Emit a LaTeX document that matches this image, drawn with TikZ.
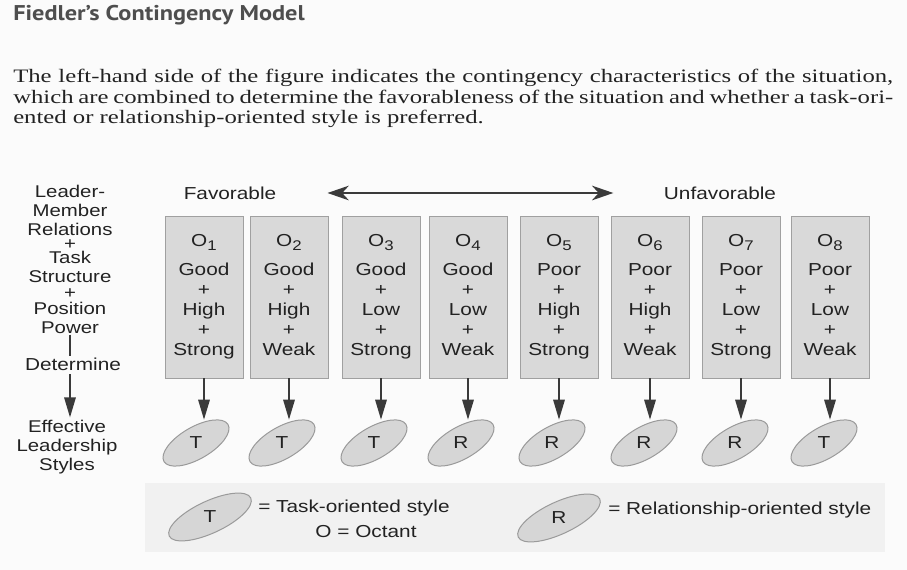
\documentclass[tikz,border=0pt]{standalone}
\usepackage{fontspec}
\usepackage{tikz}
\usetikzlibrary{arrows.meta}
\setmainfont{Liberation Serif}[FakeStretch=1.3]
\newfontfamily\labelfont{Liberation Sans}[FakeStretch=1.2]
\newfontfamily\headfont{PT Sans}[FakeStretch=1.14]
\definecolor{pagecol}{HTML}{FBFBFB}
\definecolor{bandcol}{HTML}{F1F1F1}
\definecolor{boxfill}{HTML}{D9D9D9}
\definecolor{boxline}{HTML}{A0A0A0}
\definecolor{ellfill}{HTML}{D6D6D6}
\definecolor{ellline}{HTML}{9A9A9A}
\definecolor{txtcol}{HTML}{222222}
\definecolor{arrcol}{HTML}{3A3A3A}
\definecolor{headcol}{HTML}{4E4E4E}
\newcommand{\octnum}[1]{O\raisebox{-0.45ex}{\fontsize{10.5}{12}\selectfont #1}}
\begin{document}
\begin{tikzpicture}[x=0.75pt,y=0.75pt,yscale=-1,xscale=1,
    lbl/.style={font=\labelfont\fontsize{13}{15}\selectfont, text=txtcol, inner sep=0.75pt},
    sidelbl/.style={lbl, align=center, font=\labelfont\fontsize{12.75}{14.25}\selectfont},
    octbox/.style={lbl, draw=boxline, fill=boxfill, line width=0.6pt, align=center, minimum width=58.5pt, minimum height=121.5pt},
    stylemark/.style={lbl, inner sep=0pt, minimum height=34.5pt},
    ellshape/.style={draw=ellline, fill=ellfill, line width=0.75pt},
    downarr/.style={draw=arrcol, line width=1.5pt, -{Triangle[length=15pt,width=8.5pt]}},
    barline/.style={draw=arrcol, line width=1.5pt},
    rangearr/.style={draw=arrcol, line width=1.1pt, {Stealth[length=16pt,width=11pt,inset=5pt]}-{Stealth[length=16pt,width=11pt,inset=5pt]}}]
        \useasboundingbox (0,0) rectangle (907,570);
        \fill[pagecol] (0,0) rectangle (907,570);

        %Shape: Rectangle [legend band]
        \fill[bandcol] (145,483) rectangle (885,552);

        % Text Node
        \draw (13,15) node [anchor=west][inner sep=0pt][font=\headfont\bfseries\fontsize{16}{19}\selectfont, text=headcol] (title) {Fiedler’s Contingency Model};
        % Text Node
        \draw (13,69) node [anchor=north west][inner sep=0pt][text width=660pt, align=justify, text=txtcol, font=\fontsize{14.25}{15.4}\selectfont] (intro) {The left-hand side of the figure indicates the contingency characteristics of the situation,\linebreak which are combined to determine the favorableness of the situation and whether a task-ori-\linebreak ented or relationship-oriented style is preferred.};

        % Text Node
        \draw (230,193) node [lbl] (fav) {Favorable};
        % Text Node
        \draw (720,193) node [lbl] (unfav) {Unfavorable};
        %Straight Lines
        \draw [rangearr, shorten <=37.5pt, shorten >=37pt] (fav.east) -- (unfav.west);

        % Text Node
        \draw (70,259) node [sidelbl] (lmr) {Leader-\\Member\\Relations\\[-3.5pt]+\\[-3.5pt]Task\\Structure\\[-2.5pt]+\\[-2.5pt]Position\\Power};
        % Text Node
        \draw (73,364) node [lbl] (det) {Determine};
        % Text Node
        \draw (67,447) node [sidelbl] (eff) {Effective\\Leadership\\Styles};
        %Straight Lines
        \draw [barline] (lmr.south) -- (lmr.south |- det.north);
        \draw [downarr, shorten <=2pt, shorten >=1pt] (lmr.south |- det.south) -- (lmr.south |- eff.north);

        %Shape: Rectangle [octants]
        \draw (204,297) node [octbox] (o1) {\strut\octnum{1}\\[7pt]Good\\+\\High\\+\\Strong\strut};
        \draw (289,297) node [octbox] (o2) {\strut\octnum{2}\\[7pt]Good\\+\\High\\+\\Weak\strut};
        \draw (381,297) node [octbox] (o3) {\strut\octnum{3}\\[7pt]Good\\+\\Low\\+\\Strong\strut};
        \draw (468,297) node [octbox] (o4) {\strut\octnum{4}\\[7pt]Good\\+\\Low\\+\\Weak\strut};
        \draw (559,297) node [octbox] (o5) {\strut\octnum{5}\\[7pt]Poor\\+\\High\\+\\Strong\strut};
        \draw (650,297) node [octbox] (o6) {\strut\octnum{6}\\[7pt]Poor\\+\\High\\+\\Weak\strut};
        \draw (741,297) node [octbox] (o7) {\strut\octnum{7}\\[7pt]Poor\\+\\Low\\+\\Strong\strut};
        \draw (830,297) node [octbox] (o8) {\strut\octnum{8}\\[7pt]Poor\\+\\Low\\+\\Weak\strut};

        %Shape: Ellipse [styles]
        \draw[ellshape, rotate around={-30:(196,443)}] (196,443) ellipse [x radius=37, y radius=16];
        \draw[ellshape, rotate around={-30:(282,443)}] (282,443) ellipse [x radius=37, y radius=16];
        \draw[ellshape, rotate around={-30:(374,443)}] (374,443) ellipse [x radius=37, y radius=16];
        \draw[ellshape, rotate around={-30:(461,443)}] (461,443) ellipse [x radius=37, y radius=16];
        \draw[ellshape, rotate around={-30:(552,443)}] (552,443) ellipse [x radius=37, y radius=16];
        \draw[ellshape, rotate around={-30:(644,443)}] (644,443) ellipse [x radius=37, y radius=16];
        \draw[ellshape, rotate around={-30:(735,443)}] (735,443) ellipse [x radius=37, y radius=16];
        \draw[ellshape, rotate around={-30:(824,443)}] (824,443) ellipse [x radius=37, y radius=16];
        % Text Node
        \draw (196,443) node [stylemark] (s1) {T};
        \draw (282,443) node [stylemark] (s2) {T};
        \draw (374,443) node [stylemark] (s3) {T};
        \draw (461,443) node [stylemark] (s4) {R};
        \draw (552,443) node [stylemark] (s5) {R};
        \draw (644,443) node [stylemark] (s6) {R};
        \draw (735,443) node [stylemark] (s7) {R};
        \draw (824,443) node [stylemark] (s8) {T};

        %Straight Lines
        \draw [downarr] (o1.south) -- (o1.south |- s1.north);
        \draw [downarr] (o2.south) -- (o2.south |- s2.north);
        \draw [downarr] (o3.south) -- (o3.south |- s3.north);
        \draw [downarr] (o4.south) -- (o4.south |- s4.north);
        \draw [downarr] (o5.south) -- (o5.south |- s5.north);
        \draw [downarr] (o6.south) -- (o6.south |- s6.north);
        \draw [downarr] (o7.south) -- (o7.south |- s7.north);
        \draw [downarr] (o8.south) -- (o8.south |- s8.north);

        %Shape: Ellipse [legend]
        \draw[ellshape, rotate around={-25:(210,517)}] (210,517) ellipse [x radius=45, y radius=16];
        \draw[ellshape, rotate around={-25:(559,518)}] (559,518) ellipse [x radius=45, y radius=16];
        % Text Node
        \draw (210,517) node [lbl] (legt) {T};
        \draw (559,518) node [lbl] (legr) {R};
        \draw (257,508) node [lbl, anchor=west] (legttxt) {= Task-oriented style};
        \draw (366,532) node [lbl] (octtxt) {O = Octant};
        \draw (607,510) node [lbl, anchor=west] (legrtxt) {= Relationship-oriented style};

\end{tikzpicture}
\end{document}
